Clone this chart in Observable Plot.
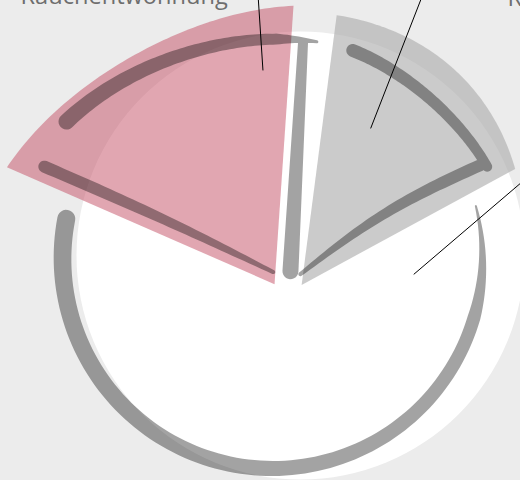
<!DOCTYPE html>
<html>
<head>
<meta charset="utf-8">
<script src="https://cdn.jsdelivr.net/npm/d3@7"></script>
<script src="https://cdn.jsdelivr.net/npm/@observablehq/plot@0.6"></script>
<style>
html,body{margin:0;padding:0;background:#ececec;}
#chart svg{display:block;}
</style>
</head>
<body>
<div id="chart"></div>
<script>
// ---------- data ----------
const categories = ["Nikotinersatz", "Rauchstopp ohne Hilfe", "Rauchentwöhnung"];
const shares = [16, 63.5, 20.5];

// ---------- style ----------
const sliceFill = ["#acacac", "#ffffff", "#c34d63"];
const sliceFillOpacity = [0.63, 0, 0.5];
const brushOpacity = 0.36;
const labelColor = "#6e6e6e";

// ---------- layout ----------
const W = 520, H = 480;
const deg = Math.PI / 180;
const startDeg = 5.65, padDeg = 3.5;
const pieCenter = [287, 305], explode = 25;
const outerArc = [{r0: 272, r1: 243, bulge: 7}, null, {r0: 292, r1: 279, bulge: -17}];
const discCenter = [300, 255], discR = 224;
const ringCenter = [272, 258], ringR = 210;

const toXY = (c, th, r) => [c[0] + r * Math.sin(th * deg), c[1] - r * Math.cos(th * deg)];
function polar(c, t0, t1, r0, r1, bulge, n = 72) {
  const pts = [];
  for (let i = 0; i <= n; i++) {
    const f = i / n;
    pts.push(toXY(c, t0 + (t1 - t0) * f, r0 + (r1 - r0) * f + bulge * Math.sin(Math.PI * f)));
  }
  return pts;
}
function along(c, th, s0, s1, d0, d1, side, bow = 0, n = 40) {
  const e = [Math.sin(th * deg), -Math.cos(th * deg)];
  const nv = side > 0 ? [Math.cos(th * deg), Math.sin(th * deg)] : [-Math.cos(th * deg), -Math.sin(th * deg)];
  const pts = [];
  for (let i = 0; i <= n; i++) {
    const f = i / n, s = s0 + (s1 - s0) * f, d = d0 + (d1 - d0) * f + bow * Math.sin(Math.PI * f);
    pts.push([c[0] + s * e[0] + d * nv[0], c[1] + s * e[1] + d * nv[1]]);
  }
  return pts;
}
function ribbon(pts, wf) {
  const n = pts.length, L = [], R = [], D = [];
  for (let i = 0; i < n; i++) {
    const a = pts[Math.max(0, i - 1)], b = pts[Math.min(n - 1, i + 1)];
    let dx = b[0] - a[0], dy = b[1] - a[1];
    const l = Math.hypot(dx, dy) || 1; dx /= l; dy /= l;
    D.push([dx, dy]);
    const h = wf(i / (n - 1)) / 2;
    L.push([pts[i][0] - dy * h, pts[i][1] + dx * h]);
    R.push([pts[i][0] + dy * h, pts[i][1] - dx * h]);
  }
  const cap = (c, d, h, sign) => {
    const out = [], nx = -d[1], ny = d[0];
    for (let k = 1; k < 12; k++) {
      const p = Math.PI * k / 12;
      out.push([c[0] + sign * h * (Math.cos(p) * nx + Math.sin(p) * d[0]),
                c[1] + sign * h * (Math.cos(p) * ny + Math.sin(p) * d[1])]);
    }
    return out;
  };
  let poly = [...L, ...cap(pts[n - 1], D[n - 1], wf(1) / 2, 1), ...R.reverse(), ...cap(pts[0], D[0], wf(0) / 2, -1)];
  let area = 0;
  for (let i = 0; i < poly.length; i++) {
    const p = poly[i], q = poly[(i + 1) % poly.length];
    area += p[0] * q[1] - q[0] * p[1];
  }
  if (area < 0) poly = poly.reverse();
  return poly;
}

// ---------- pie geometry ----------
const arcs = d3.pie().sort(null).startAngle(startDeg * deg).endAngle(startDeg * deg + 2 * Math.PI)(shares);
const slices = arcs.map((a, i) => {
  const s = a.startAngle / deg + padDeg / 2, e = a.endAngle / deg - padDeg / 2;
  const mid = (a.startAngle + a.endAngle) / 2 / deg;
  return {i, name: categories[i], s, e, mid, apex: toXY(pieCenter, mid, explode)};
});
const [grey, white, pink] = slices;

const wedge = (sl) => {
  const o = outerArc[sl.i];
  return [sl.apex, ...polar(sl.apex, sl.s, sl.e, o.r0, o.r1, o.bulge)].map(([x, y]) => ({x, y}));
};

// brush strokes derived from the slices
const taper = (a, b, t0, end) => (f) => {
  let w = a + (b - a) * f;
  if (f > t0) w -= (w - end) * (f - t0) / (1 - t0);
  return w;
};
const brushes = [
  ribbon(polar(pink.apex, pink.s + 14.4, pink.e + 6, 264, 246, -8), taper(16, 10, 0.85, 3)),
  ribbon(along(pink.apex, pink.s, 258, 6, 15.5, 10.5, +1, 2), (f) => 12 - 8 * f * f),
  ribbon(along(pink.apex, pink.e, 14, 243, 15, 12, +1), (f) => 16 - 6 * f),
  ribbon(polar(grey.apex, grey.s + 4.9, grey.e - 4, 240, 220, -4), (f) => 13 - 3 * f),
  ribbon(along(grey.apex, grey.e, 214, 4, 20, 10, -1, 8), (f) => 12 - 8 * f * f),
  ribbon(polar(ringCenter, white.e - 9.2, white.s + 10.55, ringR, ringR, 0, 120), taper(18, 12, 0.85, 2))
];
const brushPts = [];
brushes.forEach(poly => {
  poly.forEach(([x, y]) => brushPts.push({x, y}));
  brushPts.push({x: NaN, y: NaN});
});

// leader lines and labels
const leaders = [
  {from: toXY(grey.apex, grey.s + 16.4, 171), to: [427.8, -20]},
  {from: toXY(pieCenter, white.s + 11.15, 130), to: [540, 165.7]},
  {from: toXY(pink.apex, pink.e - 7, 214), to: [256.6, -20]}
].map(d => ({x1: d.from[0], y1: d.from[1], x2: d.to[0], y2: d.to[1]}));
const labels = [
  {x: 428, y: -26, text: categories[0]},
  {x: 507, y: 5, text: categories[1]},
  {x: 20, y: 3, text: categories[2]}
];

const plot = Plot.plot({
  width: W, height: H, margin: 0,
  x: {domain: [0, W], range: [0, W], axis: null},
  y: {domain: [0, H], range: [0, H], axis: null},
  style: {background: "#ececec", overflow: "hidden"},
  marks: [
    Plot.dot([{x: discCenter[0], y: discCenter[1]}], {x: "x", y: "y", r: discR, fill: "white", stroke: "none"}),
    Plot.line(wedge(pink), {x: "x", y: "y", fill: sliceFill[2], fillOpacity: sliceFillOpacity[2], stroke: "none"}),
    Plot.line(wedge(grey), {x: "x", y: "y", fill: sliceFill[0], fillOpacity: sliceFillOpacity[0], stroke: "none"}),
    Plot.line(brushPts, {x: "x", y: "y", fill: "black", fillOpacity: brushOpacity, stroke: "none"}),
    Plot.link(leaders, {x1: "x1", y1: "y1", x2: "x2", y2: "y2", stroke: "black", strokeWidth: 1}),
    Plot.text(labels, {x: "x", y: "y", text: "text", textAnchor: "start", lineAnchor: "bottom",
      fontSize: 23.6, fontFamily: "Open Sans", fill: labelColor})
  ]
});
document.getElementById("chart").appendChild(plot);
</script>
</body>
</html>
